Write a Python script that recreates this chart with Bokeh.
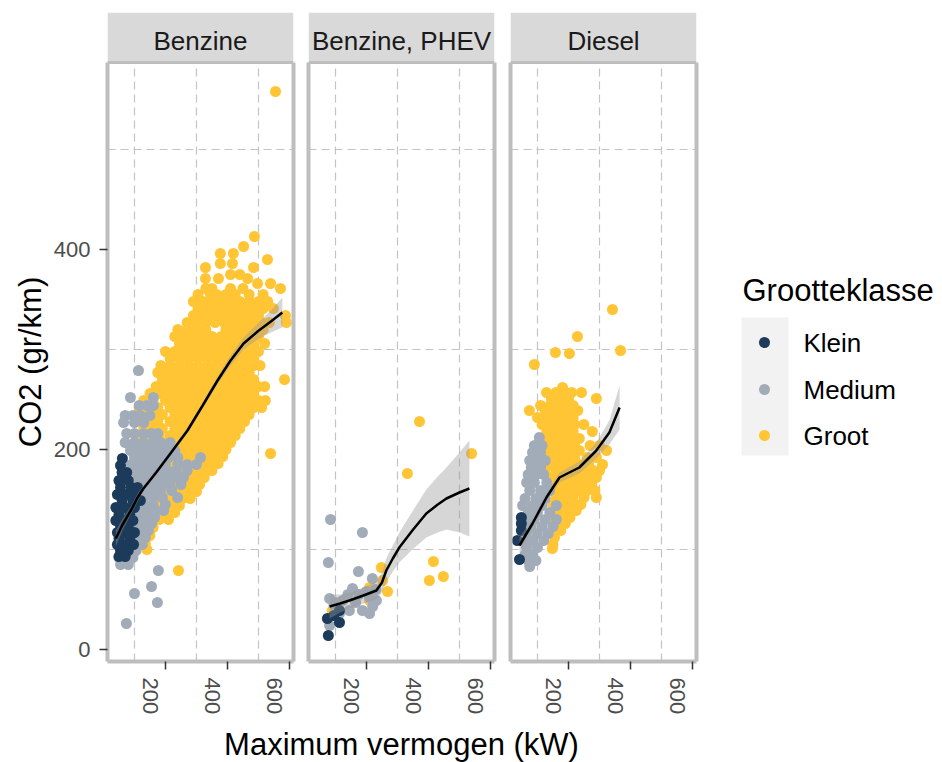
import math

from bokeh.core.properties import value
from bokeh.embed import file_html
from bokeh.layouts import column, row
from bokeh.models import FixedTicker, LinearAxis, Range1d, Span
from bokeh.plotting import figure
from bokeh.resources import INLINE

FONT = "Liberation Sans"

# ---------------------------------------------------------------- data
fuel_types = ["Benzine", "Benzine, PHEV", "Diesel"]
size_classes = ["Klein", "Medium", "Groot"]
class_colors = ["#1C3B5A", "#A2ACB9", "#FFC534"]
x_ticks = [200, 400, 600]
y_ticks = [0, 200, 400]
x_minor = [100, 300, 500]
y_minor = [100, 300, 500]

# observations per row: (CO2 in gr/km, [maximum power in kW, ...])
benzine_groot = [
    (558, [555]), (413, [487]), (403, [452]), (396, [377, 419]), (390, [529]),
    (386, [377, 416]), (382, [329, 484]), (375, [410, 440]), (371, [329, 371, 465]),
    (366, [497, 539]), (361, [330, 350, 410, 450, 571]),
    (355, [305, 345, 365, 395, 425, 470, 515]),
    (348, [290, 320, 350, 380, 410, 440, 470, 500, 530]),
    (341, [305, 335, 365, 395, 425, 455, 485, 515, 548]),
    (334, [290, 320, 350, 380, 410, 440, 470, 500, 587]),
    (327, [270, 300, 330, 360, 390, 420, 450, 480, 510, 535, 590]),
    (320, [240, 270, 300, 330, 395, 425, 455, 485, 515]),
    (313, [230, 260, 290, 320, 350, 380, 410, 440, 470, 500]),
    (306, [245, 275, 305, 335, 365, 395, 425, 455, 485, 520]),
    (298, [200, 230, 260, 290, 320, 350, 380, 410, 440, 470, 500]),
    (291, [215, 245, 275, 305, 335, 365, 395, 425, 455, 485]),
    (284, [185, 215, 245, 275, 305, 335, 365, 395, 425, 455, 485, 505]),
    (277, [175, 200, 230, 260, 290, 320, 350, 380, 410, 440, 470]),
    (270, [190, 215, 245, 275, 305, 335, 365, 395, 425, 455, 485, 584]),
    (263, [170, 200, 230, 260, 290, 320, 350, 380, 410, 440, 470, 500, 520]),
    (256, [150, 185, 215, 245, 275, 305, 335, 365, 395, 425, 455, 485]),
    (249, [130, 160, 200, 230, 260, 290, 320, 350, 380, 410, 440, 470, 500, 522]),
    (242, [115, 145, 175, 215, 245, 275, 305, 335, 365, 395, 425, 455, 485, 510]),
    (235, [130, 160, 190, 230, 260, 290, 320, 350, 380, 410, 440, 470]),
    (228, [110, 145, 175, 215, 245, 275, 305, 335, 365, 395, 425, 455]),
    (221, [130, 160, 190, 230, 260, 290, 320, 350, 380, 410, 440]),
    (214, [120, 150, 180, 215, 245, 275, 305, 335, 365, 395, 425]),
    (207, [140, 170, 200, 230, 260, 290, 320, 350, 380, 410]),
    (200, [130, 160, 190, 215, 245, 275, 305, 335, 365, 395]),
    (196, [539]),
    (193, [150, 180, 210, 240, 270, 300, 330, 360, 385]),
    (186, [140, 170, 200, 230, 260, 290, 320, 350, 370]),
    (179, [155, 185, 215, 245, 275, 305, 335, 350]),
    (172, [145, 175, 205, 235, 265, 295, 325]),
    (165, [160, 190, 220, 250, 280, 310]),
    (158, [150, 180, 210, 240, 270, 300]),
    (151, [165, 195, 225, 255, 280]),
    (144, [155, 185, 215, 245]),
    (137, [170, 200, 230]),
    (130, [150, 180, 210]),
    (122, [135, 160]), (114, [132, 150]), (106, [135]), (100, [140]), (79, [242]),
]
benzine_medium = [
    (279, [113]), (252, [87, 161]), (244, [115, 140, 161]), (234, [70, 95, 119, 150]),
    (227, [65, 100, 130]), (216, [75, 100, 129, 155, 175]),
    (207, [70, 100, 130, 160, 184, 215]), (199, [87, 115, 140, 170, 200, 230]),
    (192, [100, 125, 152, 180, 210, 240, 313]),
    (185, [90, 120, 145, 170, 200, 240, 270, 300]),
    (179, [95, 125, 150, 180, 206, 235, 270]),
    (172, [110, 140, 165, 190, 215, 240, 258]),
    (165, [100, 130, 160, 190, 215, 250]), (159, [100, 130, 155, 184, 220]),
    (152, [105, 130, 160, 190, 239]), (145, [100, 130, 160, 200]),
    (139, [90, 115, 140, 170, 194]), (132, [95, 120, 145, 165]),
    (126, [85, 110, 135, 155]), (119, [80, 105, 130, 145]), (112, [70, 95, 120, 135]),
    (105, [60, 85, 110, 125]), (99, [55, 80, 105]), (92, [50, 70, 95]), (85, [55, 80]),
    (79, [177]), (63, [155]), (56, [100]), (47, [174]), (26, [74]),
]
benzine_klein = [
    (191, [61]), (184, [55]), (177, [60, 75]), (169, [50, 80]), (162, [55, 90, 110]),
    (155, [45, 75, 100]), (149, [60, 95, 119]), (142, [40, 70, 100]), (135, [50, 85]),
    (129, [40, 65, 95]), (123, [55, 80]), (117, [45, 70, 100]), (111, [50, 85]),
    (105, [45, 75, 97]), (99, [55, 80]), (93, [50, 70]),
]

phev_groot = [
    (228, [371]), (196, [539]), (176, [332]), (88, [416]), (82, [248]), (73, [448]),
    (69, [252, 403]), (62, [210]), (58, [268]), (49, [210]), (39, [90]),
]
phev_medium = [
    (130, [84]), (117, [187]), (87, [77]), (78, [174]), (71, [219]), (61, [155]),
    (58, [200]), (60, [230]), (55, [140, 175]), (52, [210]), (51, [81]),
    (49, [123, 232]), (47, [100, 165]), (45, [95]), (43, [220]), (39, [145, 187]),
    (36, [113, 210]), (24, [81]),
]
phev_klein = [(39, [113]), (34, [95]), (31, [74]), (27, [113]), (14, [77])]

diesel_groot = [
    (340, [342]), (313, [229]), (299, [368]), (297, [158]), (296, [203]), (285, [90]),
    (262, [181]), (257, [129, 160, 190, 210, 242]), (251, [145, 175, 200, 290]),
    (244, [110, 140, 170, 195, 215]), (239, [74, 125, 155, 185, 210, 230]),
    (232, [100, 130, 160, 190, 215]), (225, [115, 145, 170, 195, 220, 250]),
    (218, [130, 160, 190, 215, 277]), (211, [115, 145, 175, 205, 235]),
    (204, [130, 160, 190, 220, 270, 300]), (199, [110, 145, 175, 205, 235, 323]),
    (192, [130, 160, 190, 220, 260, 290]), (185, [145, 175, 205, 235, 265, 310]),
    (179, [125, 160, 190, 220, 250, 280, 300]), (172, [140, 170, 200, 230, 260, 290]),
    (165, [155, 185, 215, 245, 275]), (159, [140, 170, 200, 230, 260, 285]),
    (152, [160, 190, 215, 250, 290]), (145, [150, 180, 210, 240]),
    (139, [165, 195, 225]), (132, [150, 180, 205]), (126, [160, 190]),
    (119, [150, 175]), (112, [155]), (105, [150]), (101, [148]),
]
diesel_medium = [
    (212, [106]), (204, [90, 115]), (197, [84, 110]), (189, [75, 100, 125]),
    (182, [80, 110]), (175, [70, 95, 120]), (167, [65, 90, 130]), (159, [75, 110, 139]),
    (151, [60, 95, 125]), (144, [52, 85, 115, 161]), (137, [70, 100, 140]),
    (130, [60, 90, 125, 161]), (123, [55, 80, 115, 150]), (116, [65, 100, 135]),
    (109, [55, 85, 120]), (102, [65, 100]), (95, [60, 85]), (89, [70, 95]), (83, [75]),
]
diesel_klein = [(132, [48]), (126, [48]), (119, [48]), (109, [35]), (90, [42])]

# loess trend per fuel type with its confidence band
benzine_trend_kw = [40, 60, 90, 110, 129, 170, 216, 271, 320, 368, 410, 452, 497, 540, 577]
benzine_trend_co2 = [111, 124, 140, 152, 161, 177, 196, 219, 244, 269, 289, 306, 318, 328, 337]
benzine_trend_se = [8, 6, 4, 4, 3, 3, 3, 3, 3, 4, 5, 6, 8, 11, 15]

phev_trend_kw = [81, 115, 145, 190, 232, 250, 264, 285, 306, 348, 393, 430, 458, 500, 532]
phev_trend_co2 = [43, 46, 49, 54, 59, 67, 79, 91, 102, 119, 136, 145, 151, 157, 161]
phev_trend_se = [12, 9, 8, 8, 9, 10, 12, 13, 15, 19, 24, 28, 31, 40, 48]

diesel_trend_kw = [42, 84, 129, 171, 235, 290, 332, 365]
diesel_trend_co2 = [104, 126, 152, 172, 182, 199, 217, 242]
diesel_trend_se = [8, 5, 4, 5, 6, 8, 12, 22]

facets = {
    "Benzine": ([benzine_klein, benzine_medium, benzine_groot],
                benzine_trend_kw, benzine_trend_co2, benzine_trend_se),
    "Benzine, PHEV": ([phev_klein, phev_medium, phev_groot],
                      phev_trend_kw, phev_trend_co2, phev_trend_se),
    "Diesel": ([diesel_klein, diesel_medium, diesel_groot],
               diesel_trend_kw, diesel_trend_co2, diesel_trend_se),
}

# ---------------------------------------------------------------- style
X_RANGE = (13, 613)
Y_RANGE = (-12, 637)
PANEL_TOP = 587          # top of the plotting panel, the strip sits above it
FRAME_W = 186
ROW_H = 725
FRAME_TOP = 12
FRAME_BOTTOM = 661
YTITLE_W = 50
BORDER = "#BEBEBE"
GRID = "#C4C4C4"
TICK = "#333333"
TICK_TEXT = "#4D4D4D"
POINT_SIZE = 11
LABEL_SHIFT = 48         # rotated tick labels sit just left of their tick


def flatten(rows):
    xs, ys = [], []
    for co2, kws in rows:
        for kw in kws:
            xs.append(kw)
            ys.append(co2)
    return xs, ys


def blank_figure(width, height, x_range, y_range, **borders):
    f = figure(width=width, height=height, x_range=x_range, y_range=y_range,
               x_axis_type=None, y_axis_type=None, output_backend="svg",
               toolbar_location=None, **borders)
    f.outline_line_color = None
    f.xgrid.visible = False
    f.ygrid.visible = False
    return f


def make_panel(name, first):
    groups, t_kw, t_co2, t_se = facets[name]
    left = 107 - YTITLE_W if first else 8
    right = 7 if first else 8
    p = figure(width=left + FRAME_W + right, height=ROW_H,
               x_range=Range1d(*X_RANGE), y_range=Range1d(*Y_RANGE),
               output_backend="svg", toolbar_location=None,
               min_border_left=left, min_border_right=right,
               min_border_top=FRAME_TOP, min_border_bottom=ROW_H - FRAME_BOTTOM)
    p.outline_line_color = None
    p.background_fill_color = "white"
    p.border_fill_color = "white"

    # dashed minor grid, the major grid is white on white
    p.xgrid.ticker = FixedTicker(ticks=x_ticks, minor_ticks=x_minor)
    p.ygrid.ticker = FixedTicker(ticks=y_ticks, minor_ticks=y_minor)
    for g in (p.xgrid, p.ygrid):
        g.grid_line_color = None
        g.minor_grid_line_color = GRID
        g.minor_grid_line_dash = "8 5"
        g.minor_grid_line_width = 1.2

    # bottom axis: tick marks on the values, rotated labels just left of them
    lab_ticks = [t - LABEL_SHIFT for t in x_ticks]
    xa = p.xaxis[0]
    xa.ticker = FixedTicker(ticks=lab_ticks, minor_ticks=x_ticks)
    xa.major_label_overrides = {lt: str(t) for lt, t in zip(lab_ticks, x_ticks)}
    xa.axis_line_color = BORDER
    xa.axis_line_width = 4
    xa.major_tick_line_color = None
    xa.major_tick_out = 8
    xa.major_tick_in = 0
    xa.minor_tick_line_color = TICK
    xa.minor_tick_line_width = 1.5
    xa.minor_tick_out = 8
    xa.minor_tick_in = 0
    xa.major_label_orientation = -math.pi / 2
    xa.major_label_standoff = 8
    xa.major_label_text_font = FONT
    xa.major_label_text_font_size = "22px"
    xa.major_label_text_color = TICK_TEXT

    # left axis
    ya = p.yaxis[0]
    ya.bounds = (Y_RANGE[0], PANEL_TOP)
    ya.axis_line_color = BORDER
    ya.axis_line_width = 4
    ya.minor_tick_line_color = None
    if first:
        ya.ticker = FixedTicker(ticks=y_ticks)
        ya.major_tick_line_color = TICK
        ya.major_tick_line_width = 1.5
        ya.major_tick_out = 8
        ya.major_tick_in = 0
        ya.major_label_standoff = 9
        ya.major_label_text_font = FONT
        ya.major_label_text_font_size = "22px"
        ya.major_label_text_color = TICK_TEXT
    else:
        ya.ticker = FixedTicker(ticks=[])
        ya.major_tick_line_color = None
        ya.major_label_standoff = 0

    # right and top panel border
    ra = LinearAxis(ticker=FixedTicker(ticks=[]), bounds=(Y_RANGE[0], PANEL_TOP),
                    axis_line_color=BORDER, axis_line_width=4,
                    major_tick_line_color=None, minor_tick_line_color=None,
                    major_label_standoff=0)
    p.add_layout(ra, "right")
    p.add_layout(Span(location=PANEL_TOP, dimension="width",
                      line_color=BORDER, line_width=3))

    # points
    for rows, color in zip(groups[::-1], class_colors[::-1]):
        xs, ys = flatten(rows)
        p.scatter(xs, ys, size=POINT_SIZE, fill_color=color, line_color=None)

    # loess trend
    lo = [c - s for c, s in zip(t_co2, t_se)]
    hi = [c + s for c, s in zip(t_co2, t_se)]
    p.varea(x=t_kw, y1=lo, y2=hi, fill_color="#999999", fill_alpha=0.4)
    p.line(t_kw, t_co2, line_color="black", line_width=2.5)

    # facet strip
    p.quad(left=[X_RANGE[0]], right=[X_RANGE[1]], bottom=[PANEL_TOP], top=[Y_RANGE[1]],
           fill_color="#D9D9D9", line_color=None)
    p.text(x=[(X_RANGE[0] + X_RANGE[1]) / 2], y=[(PANEL_TOP + Y_RANGE[1]) / 2 - 3],
           text=[name], text_align="center", text_baseline="middle",
           text_font=value(FONT), text_font_size="26px", text_color="#1A1A1A")
    return p


panels = [make_panel(n, i == 0) for i, n in enumerate(fuel_types)]

frame_borders = dict(min_border_left=0, min_border_right=0,
                     min_border_top=FRAME_TOP, min_border_bottom=ROW_H - FRAME_BOTTOM)

# y axis title, centred on the panels
yt = blank_figure(YTITLE_W, ROW_H, Range1d(0, YTITLE_W), Range1d(FRAME_BOTTOM, FRAME_TOP),
                  **frame_borders)
yt.text(x=[30], y=[(FRAME_BOTTOM + 62) / 2], text=["CO2 (gr/km)"], angle=math.pi / 2,
        text_align="center", text_baseline="middle", text_font=value(FONT),
        text_font_size="31px", text_color="black")

# legend
leg_w = 942 - YTITLE_W - sum(p.width for p in panels)
leg = blank_figure(leg_w, ROW_H, Range1d(0, leg_w), Range1d(FRAME_BOTTOM, FRAME_TOP),
                   **frame_borders)
key_y = [342, 389, 435]
leg.quad(left=[37], right=[84], top=[317], bottom=[455], fill_color="#F2F2F2", line_color=None)
leg.scatter([60] * 3, key_y, size=POINT_SIZE, fill_color=class_colors, line_color=None)
leg.text(x=[99] * 3, y=key_y, text=size_classes, text_baseline="middle",
         text_font=value(FONT), text_font_size="26px", text_color="black")
leg.text(x=[38], y=[290], text=["Grootteklasse"], text_baseline="middle",
         text_font=value(FONT), text_font_size="31px", text_color="black")

# shared x axis title
xt = blank_figure(942, 762 - ROW_H, Range1d(0, 942), Range1d(762 - ROW_H, 0), min_border=0)
xt.text(x=[401], y=[19], text=["Maximum vermogen (kW)"], text_align="center",
        text_baseline="middle", text_font=value(FONT), text_font_size="31px",
        text_color="black")

layout = column(row(yt, *panels, leg), xt)
open("out.html", "w").write(file_html(layout, INLINE))
